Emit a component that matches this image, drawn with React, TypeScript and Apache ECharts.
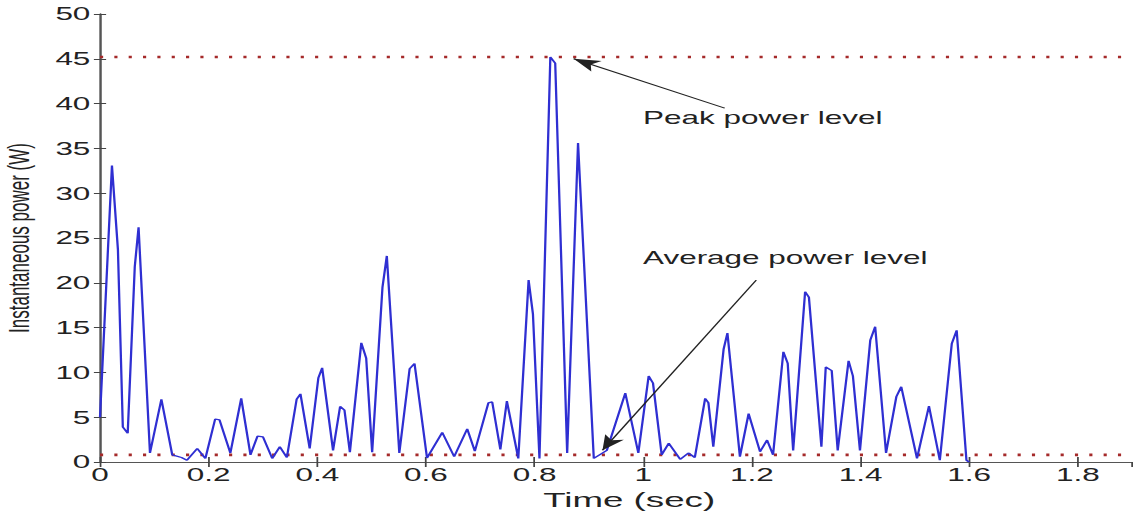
import React, { useEffect, useRef } from "react";
import * as echarts from "echarts";

// ---- data ----
const timeSec: number[] = [
  0.0, 0.022, 0.033, 0.042, 0.051, 0.064, 0.071, 0.092, 0.113, 0.133,
  0.15, 0.16, 0.179, 0.194, 0.212, 0.22, 0.24, 0.26, 0.277, 0.29,
  0.3, 0.317, 0.331, 0.344, 0.362, 0.369, 0.386, 0.402, 0.409, 0.429,
  0.442, 0.45, 0.46, 0.481, 0.49, 0.501, 0.52, 0.528, 0.551, 0.57,
  0.579, 0.602, 0.63, 0.652, 0.676, 0.69, 0.715, 0.722, 0.737, 0.749,
  0.77, 0.789, 0.797, 0.809, 0.829, 0.838, 0.86, 0.88, 0.909, 0.933,
  0.967, 0.991, 1.01, 1.018, 1.034, 1.047, 1.068, 1.083, 1.095, 1.114,
  1.12, 1.129, 1.148, 1.155, 1.178, 1.194, 1.215, 1.228, 1.239, 1.258,
  1.266, 1.276, 1.298, 1.305, 1.328, 1.336, 1.347, 1.358, 1.378, 1.386,
  1.399, 1.418, 1.427, 1.447, 1.466, 1.475, 1.504, 1.526, 1.546, 1.568,
  1.577, 1.595, 1.6,
];
const powerW: number[] = [
  5.0, 33.1, 23.7, 3.9, 3.2, 21.8, 26.2, 1.0, 7.0, 0.8,
  0.5, 0.2, 1.5, 0.4, 4.8, 4.7, 1.0, 7.1, 0.8, 2.9,
  2.8, 0.4, 1.7, 0.5, 7.0, 7.6, 1.5, 9.4, 10.5, 1.3,
  6.2, 5.8, 1.1, 13.3, 11.6, 1.1, 19.5, 23.0, 1.0, 10.4,
  11.0, 0.45, 3.3, 0.6, 3.7, 1.2, 6.6, 6.7, 1.4, 6.8,
  0.4, 20.3, 16.5, 0.4, 45.2, 44.5, 1.0, 35.6, 0.4, 1.3,
  7.7, 1.0, 9.6, 8.8, 0.8, 2.1, 0.3, 1.0, 0.5, 7.1,
  6.6, 1.7, 12.6, 14.4, 0.6, 5.4, 1.15, 2.45, 0.8, 12.3,
  11.0, 1.3, 19.0, 18.4, 1.7, 10.6, 10.2, 1.3, 11.3, 9.6,
  1.3, 13.6, 15.1, 1.0, 7.3, 8.4, 0.4, 6.25, 0.2, 13.2,
  14.7, 0.2, 0.0,
];
const peakLevel = 45.2;
const averageLevel = 0.8;
const xRange: number[] = [0, 1.9];
const yRange: number[] = [0, 50];
// arrows: [fromTime, fromPower, toTime, toPower]
const peakArrow: number[] = [1.15, 39.5, 0.872, 45.0];
const averageArrow: number[] = [1.208, 20.3, 0.925, 1.3];
const peakLabel = "Peak power level";
const averageLabel = "Average power level";
const xName = "Time (sec)";
const yName = "Instantaneous power (W)";

// the reference is a horizontally stretched image; reproduce by stretching
const FULL_W = 1133;
const FULL_H = 511;
const INNER_W = 648;
const SX = FULL_W / INNER_W;

const FONT = "'Liberation Sans', Arial, Helvetica, sans-serif";

export default function App() {
  const ref = useRef<HTMLDivElement | null>(null);

  useEffect(() => {
    if (!ref.current) return;
    const chart = echarts.init(ref.current, null, { renderer: "svg" });
    const curve = timeSec.map((t, i) => [t, powerW[i]]);
    const dotted = {
      type: [1.8, 6.4] as number[],
      width: 2.6,
      color: "#a52a2a",
    };
    const arrowStyle = { color: "#222", width: 1, type: "solid" as const };

    chart.setOption({
      animation: false,
      backgroundColor: "#ffffff",
      grid: {
        left: 100 / SX,
        right: 0.5,
        top: 14,
        bottom: 49,
        containLabel: false,
        outerBoundsMode: "none",
      },
      xAxis: [
        {
          type: "value",
          position: "bottom",
          min: xRange[0],
          max: xRange[1],
          interval: 0.2,
          axisLine: { show: true, lineStyle: { color: "#8c8c8c", width: 1 } },
          axisTick: { show: true, inside: true, length: 5, lineStyle: { color: "#444" } },
          axisLabel: {
            margin: 4,
            fontSize: 18,
            fontFamily: FONT,
            color: "#222",
            showMaxLabel: false,
          },
          splitLine: { show: false },
          name: xName,
          nameLocation: "middle",
          nameGap: 21,
          nameTextStyle: {
            fontSize: 21,
            fontFamily: FONT,
            color: "#222",
            padding: [0, 0, 0, 15],
          },
        },
        {
          type: "value",
          position: "top",
          min: xRange[0],
          max: xRange[1],
          interval: 0.2,
          axisLine: { show: true, lineStyle: { color: "#555", width: 1 } },
          axisTick: { show: true, inside: true, length: 5, lineStyle: { color: "#444" } },
          axisLabel: { show: false },
          splitLine: { show: false },
        },
      ],
      yAxis: [
        {
          type: "value",
          position: "left",
          min: yRange[0],
          max: yRange[1],
          interval: 5,
          axisLine: { show: true, lineStyle: { color: "#333", width: 1.1 } },
          axisTick: { show: true, inside: true, length: 3.5, lineStyle: { color: "#444" } },
          axisLabel: {
            margin: 5.5,
            fontSize: 18,
            fontFamily: FONT,
            color: "#222",
          },
          splitLine: { show: false },
          name: yName,
          nameLocation: "middle",
          nameGap: 38,
          nameRotate: 90,
          nameTextStyle: { fontSize: 17, fontFamily: FONT, color: "#222" },
        },
        {
          type: "value",
          position: "right",
          min: yRange[0],
          max: yRange[1],
          interval: 5,
          axisLine: { show: true, lineStyle: { color: "#555", width: 1 } },
          axisTick: { show: true, inside: true, length: 3.5, lineStyle: { color: "#444" } },
          axisLabel: { show: false },
          splitLine: { show: false },
        },
      ],
      series: [
        {
          type: "line",
          name: "Average",
          data: [
            [xRange[0], averageLevel],
            [xRange[1], averageLevel],
          ],
          symbol: "none",
          lineStyle: dotted,
          z: 2,
          silent: true,
          markLine: {
            silent: true,
            symbol: ["none", "arrow"],
            symbolSize: [9, 15],
            label: { show: false },
            lineStyle: arrowStyle,
            data: [
              [
                { coord: [averageArrow[0], averageArrow[1]] },
                { coord: [averageArrow[2], averageArrow[3]] },
              ],
            ],
          },
        },
        {
          type: "line",
          name: "Peak",
          data: [
            [xRange[0], peakLevel],
            [xRange[1], peakLevel],
          ],
          symbol: "none",
          lineStyle: dotted,
          z: 2,
          silent: true,
          markLine: {
            silent: true,
            symbol: ["none", "arrow"],
            symbolSize: [9, 15],
            label: { show: false },
            lineStyle: arrowStyle,
            data: [
              [
                { coord: [peakArrow[0], peakArrow[1]] },
                { coord: [peakArrow[2], peakArrow[3]] },
              ],
            ],
          },
        },
        {
          type: "line",
          name: "Power",
          data: curve,
          symbol: "none",
          showSymbol: false,
          lineStyle: { color: "#2f2fd2", width: 1.3 },
          z: 3,
        },
      ],
      graphic: [
        {
          type: "text",
          x: 643 / SX,
          y: 118,
          style: {
            text: peakLabel,
            fontSize: 18,
            fontFamily: FONT,
            fill: "#222",
            align: "left",
            verticalAlign: "middle",
          },
        },
        {
          type: "text",
          x: 643 / SX,
          y: 258,
          style: {
            text: averageLabel,
            fontSize: 18,
            fontFamily: FONT,
            fill: "#222",
            align: "left",
            verticalAlign: "middle",
          },
        },
      ],
    });
    return () => chart.dispose();
  }, []);

  return (
    <div
      style={{
        position: "absolute",
        left: 0,
        top: 0,
        width: FULL_W,
        height: FULL_H,
        overflow: "hidden",
        background: "#fff",
      }}
    >
      <div
        ref={ref}
        style={{
          width: INNER_W,
          height: FULL_H,
          transform: `scaleX(${SX})`,
          transformOrigin: "0 0",
        }}
      />
    </div>
  );
}
